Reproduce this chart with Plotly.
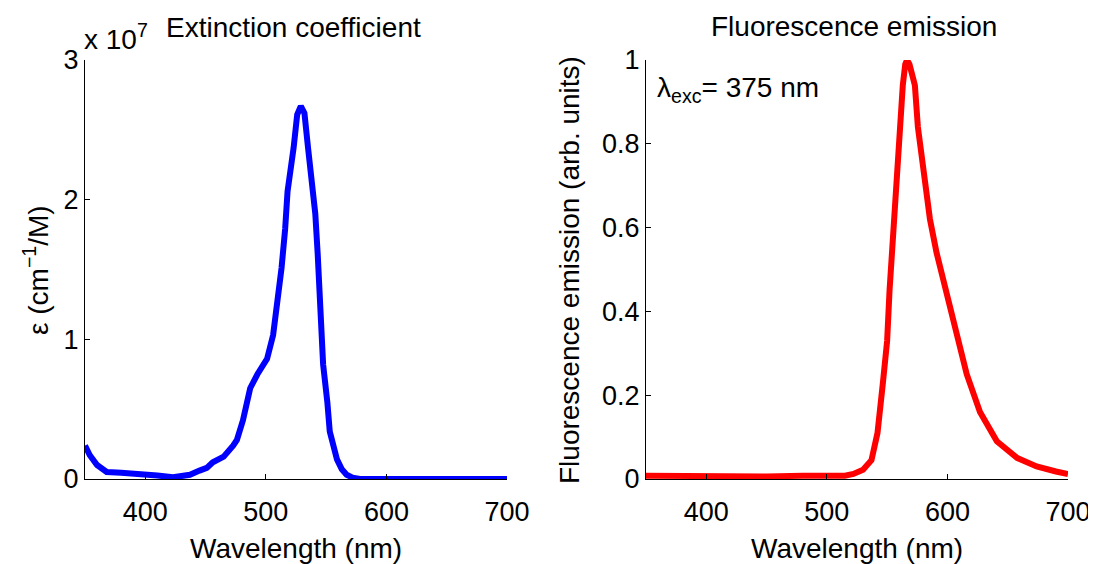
import plotly.graph_objects as go

# Extinction coefficient (units of 1e7 cm^-1/M)
ext_wavelength = [350, 354, 360, 368, 380, 398, 410, 423, 430, 437, 445, 451, 456, 465, 473, 476,
                  481, 487, 493, 501, 506, 510, 513, 516, 518, 523, 526, 529, 532, 535, 538, 541,
                  543, 545, 547.5, 551, 553, 559, 563, 567, 572, 578, 600, 650, 700]
ext_value = [0.24, 0.17, 0.10, 0.05, 0.045, 0.036, 0.025, 0.012, 0.02, 0.03, 0.06, 0.08, 0.12, 0.16,
             0.24, 0.28, 0.42, 0.65, 0.75, 0.86, 1.03, 1.29, 1.51, 1.79, 2.06, 2.37, 2.61, 2.67, 2.62,
             2.37, 2.15, 1.9, 1.61, 1.18, 0.82, 0.55, 0.34, 0.14, 0.07, 0.03, 0.01, 0.0, 0.0, 0.0, 0.0]

# Fluorescence emission (arb. units)
em_wavelength = [350, 400, 450, 480, 502, 515, 522, 530, 537, 542, 546.5, 550, 552, 554, 556.5, 559,
                 561, 563, 565, 566.5, 568.5, 570.5, 573, 575.5, 579, 581, 585.5, 591, 598, 606, 616,
                 627, 641, 658, 674, 690, 700]
em_value = [0.008, 0.006, 0.006, 0.008, 0.006, 0.008, 0.012, 0.022, 0.045, 0.11, 0.23, 0.33, 0.45,
            0.55, 0.66, 0.77, 0.85, 0.94, 0.99, 1.0, 0.99, 0.97, 0.94, 0.84, 0.77, 0.71, 0.62, 0.54,
            0.46, 0.36, 0.25, 0.16, 0.09, 0.05, 0.03, 0.018, 0.012]

x_ticks = [400, 500, 600, 700]
ext_y_ticks = [0, 1, 2, 3]
em_y_ticks = [0, 0.2, 0.4, 0.6, 0.8, 1]
em_y_ticktext = ["0", "0.2", "0.4", "0.6", "0.8", "1"]

OFF = 8  # page body margin
W, H = 1096 - OFF, 564 - OFF
FONT = "Liberation Sans, Arial, sans-serif"
FS = 27
TFS = 28

def px(x):
    return (x - OFF) / W

def py(y):
    return 1 - (y - OFF) / H

fig = go.Figure()
fig.add_trace(go.Scatter(x=ext_wavelength, y=ext_value, mode="lines",
                         line=dict(color="#0000FF", width=6), xaxis="x", yaxis="y",
                         showlegend=False))
fig.add_trace(go.Scatter(x=em_wavelength, y=em_value, mode="lines",
                         line=dict(color="#FF0000", width=6), xaxis="x2", yaxis="y2",
                         showlegend=False))

y_dom = [py(479), py(60)]
axis_common = dict(showline=True, linecolor="black", linewidth=1, mirror=False,
                   ticks="inside", ticklen=5, tickcolor="black", tickwidth=1,
                   showgrid=False, zeroline=False, automargin=False,
                   tickfont=dict(family=FONT, size=FS, color="black"))

fig.update_layout(
    width=W, height=H,
    margin=dict(l=0, r=0, t=0, b=0),
    paper_bgcolor="white", plot_bgcolor="white",
    xaxis=dict(domain=[px(85), px(507)], range=[350, 700], tickvals=x_ticks,
               anchor="y", ticklabelstandoff=9, **axis_common),
    yaxis=dict(domain=y_dom, range=[0, 3], tickvals=ext_y_ticks, anchor="x", **axis_common),
    xaxis2=dict(domain=[px(646), px(1068)], range=[350, 700], tickvals=x_ticks,
                anchor="y2", ticklabelstandoff=9, **axis_common),
    yaxis2=dict(domain=y_dom, range=[0, 1], tickvals=em_y_ticks, ticktext=em_y_ticktext,
                anchor="x2", **axis_common),
)

def ann(text, x, y, size=TFS, angle=0, xanchor="center", yanchor="middle"):
    fig.add_annotation(text=text, x=px(x), y=py(y), xref="paper", yref="paper",
                       showarrow=False, textangle=angle, xanchor=xanchor, yanchor=yanchor,
                       font=dict(family=FONT, size=size, color="black"))

ann("Extinction coefficient", 293, 27)
ann("Fluorescence emission", 854, 26)
ann("x 10<sup>7</sup>", 82, 37, xanchor="left")
ann("Wavelength (nm)", 296, 548)
ann("Wavelength (nm)", 857, 548)
ann("ε (cm<sup>−1</sup>/M)", 36, 270, angle=-90)
ann("Fluorescence emission (arb. units)", 569, 270, angle=-90)
ann("λ<sub>exc</sub>= 375 nm", 655, 90, xanchor="left")

fig.write_html("out.html")
